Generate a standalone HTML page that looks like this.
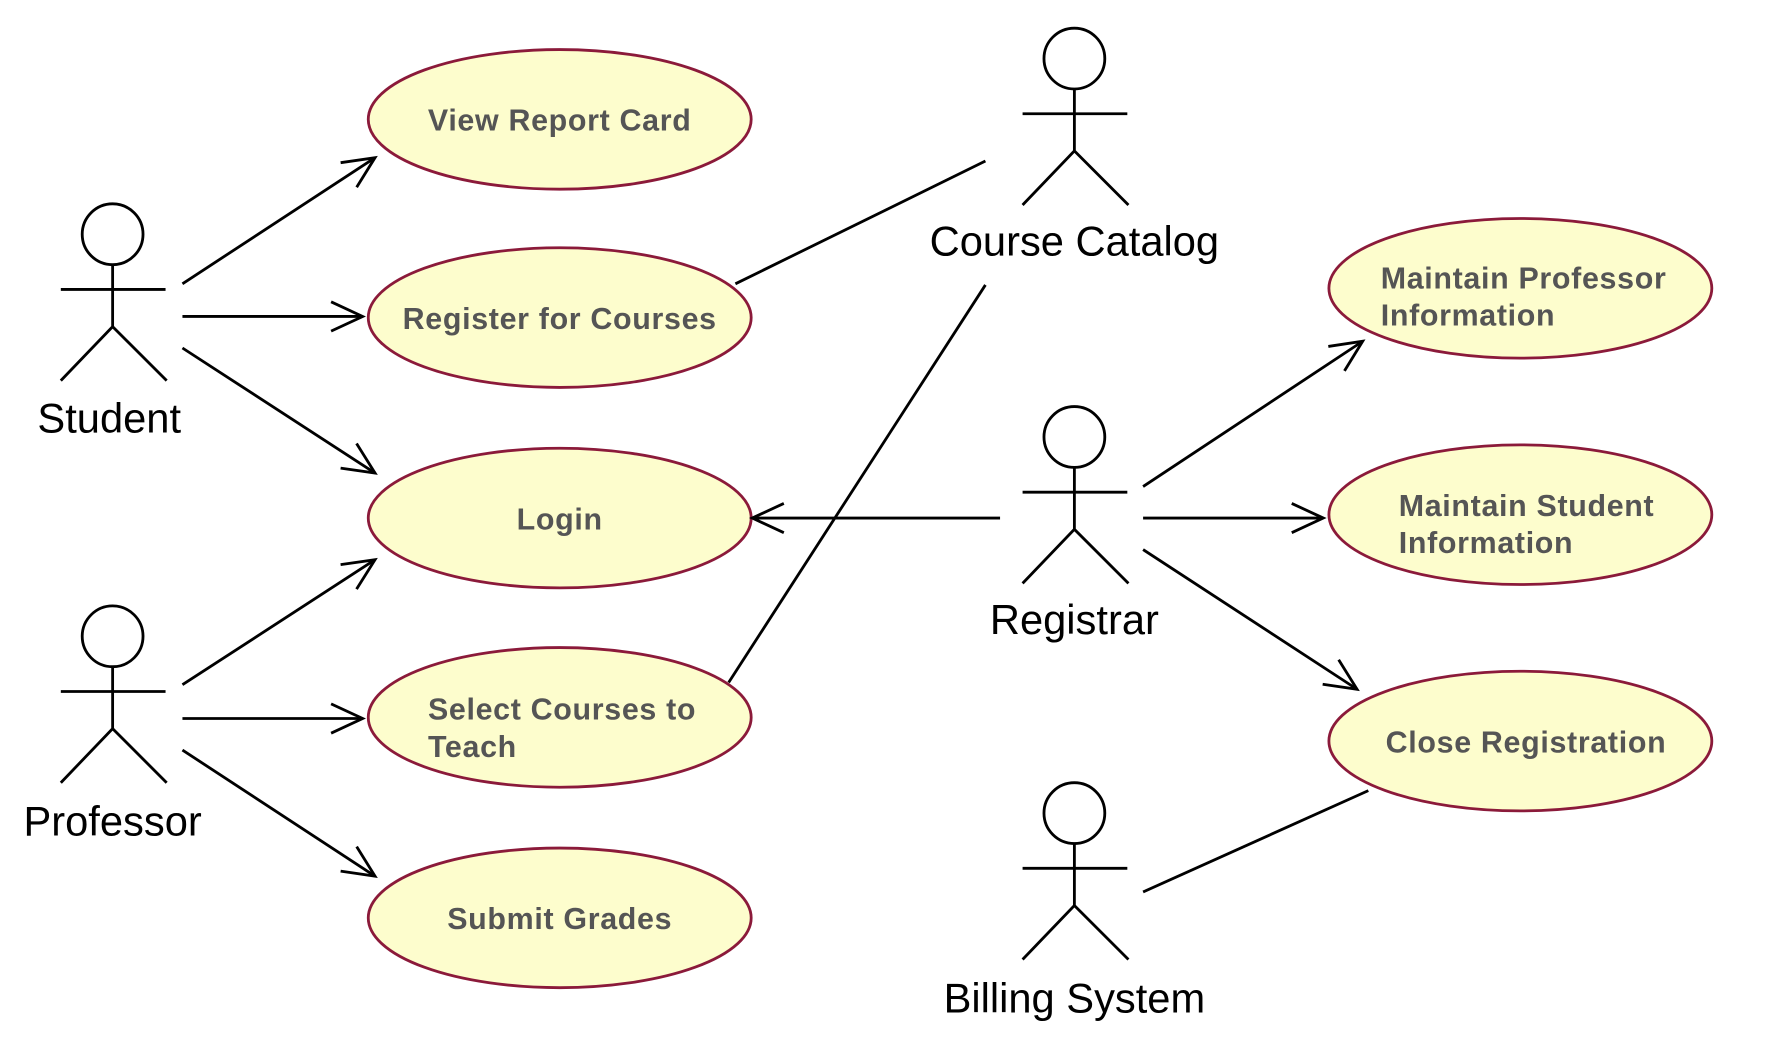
<!DOCTYPE html>
<html><head><meta charset="utf-8"><style>html,body{margin:0;padding:0;background:#fff}svg{display:block}</style></head>
<body>
<svg width="1767" height="1044" viewBox="0 0 1569 927" preserveAspectRatio="none" xmlns="http://www.w3.org/2000/svg">
<defs><marker id="a" markerWidth="40" markerHeight="40" refX="30" refY="15" orient="auto" markerUnits="userSpaceOnUse"><path d="M2,2 L30,15 L2,28" fill="none" stroke="#000" stroke-width="2.5"/></marker>
<g id="s"><circle cx="0" cy="0" r="27"/><path d="M0,27 V82 M-46,49 H47 M-46,130 L0,82 L48,130"/></g></defs>
<g fill="#fdfdcd" stroke="#8b1a3a" stroke-width="2.5">
<ellipse cx="497" cy="106" rx="170" ry="62"/><ellipse cx="497" cy="282" rx="170" ry="62"/><ellipse cx="497" cy="460" rx="170" ry="62"/><ellipse cx="497" cy="637" rx="170" ry="62"/><ellipse cx="497" cy="815" rx="170" ry="62"/>
<ellipse cx="1350" cy="256" rx="170" ry="62"/><ellipse cx="1350" cy="457" rx="170" ry="62"/><ellipse cx="1350" cy="658" rx="170" ry="62"/>
</g>
<g font-family="Liberation Sans, sans-serif" font-weight="bold" font-size="27" fill="#555" letter-spacing="0.6">
<text x="497" y="116" text-anchor="middle">View Report Card</text>
<text x="497" y="292" text-anchor="middle">Register for Courses</text>
<text x="497" y="470" text-anchor="middle">Login</text>
<text x="380" y="639">Select Courses to</text><text x="380" y="672">Teach</text>
<text x="497" y="825" text-anchor="middle">Submit Grades</text>
<text x="1226" y="256">Maintain Professor</text><text x="1226" y="289">Information</text>
<text x="1242" y="458">Maintain Student</text><text x="1242" y="491">Information</text>
<text x="1355" y="668" text-anchor="middle">Close Registration</text>
</g>
<g stroke="#000" stroke-width="2.5" fill="none">
<line x1="162" y1="252" x2="333" y2="140" marker-end="url(#a)"/>
<line x1="162" y1="281" x2="322" y2="281" marker-end="url(#a)"/>
<line x1="162" y1="309" x2="333" y2="420" marker-end="url(#a)"/>
<line x1="162" y1="608" x2="333" y2="497" marker-end="url(#a)"/>
<line x1="162" y1="638" x2="322" y2="638" marker-end="url(#a)"/>
<line x1="162" y1="666" x2="333" y2="778" marker-end="url(#a)"/>
<line x1="653" y1="252" x2="875" y2="143"/>
<line x1="875" y1="253" x2="647" y2="606"/>
<line x1="888" y1="460" x2="668" y2="460" marker-end="url(#a)"/>
<line x1="1015" y1="432" x2="1210" y2="303" marker-end="url(#a)"/>
<line x1="1015" y1="460" x2="1175" y2="460" marker-end="url(#a)"/>
<line x1="1015" y1="488" x2="1205" y2="612" marker-end="url(#a)"/>
<line x1="1015" y1="792" x2="1215" y2="702"/>
<use href="#s" x="100" y="208"/><use href="#s" x="100" y="565"/><use href="#s" x="954" y="52"/><use href="#s" x="954" y="388"/><use href="#s" x="954" y="722"/>
</g>
<g font-family="Liberation Sans, sans-serif" font-size="37" fill="#000" text-anchor="middle">
<text x="97" y="384">Student</text><text x="100" y="742">Professor</text><text x="954" y="227">Course Catalog</text><text x="954" y="563">Registrar</text><text x="954" y="899">Billing System</text>
</g>
</svg>
</body></html>
